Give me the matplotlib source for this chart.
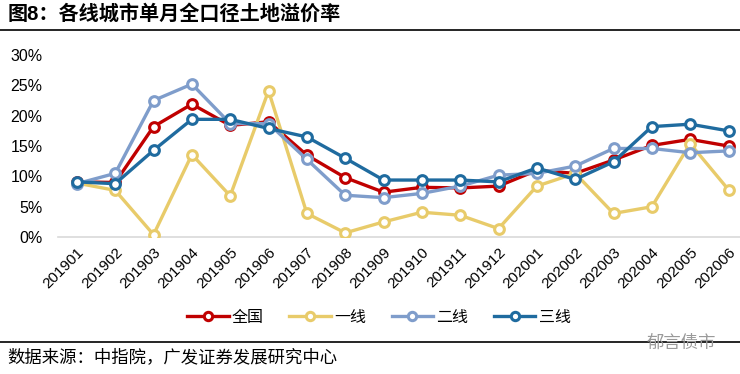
import numpy as np
import matplotlib
matplotlib.use('agg')
import matplotlib.pyplot as plt
from matplotlib.ticker import PercentFormatter
from matplotlib.lines import Line2D

plt.rcParams['font.family'] = ['Liberation Sans', 'Noto Sans CJK SC']

months = ['201901', '201902', '201903', '201904', '201905', '201906',
          '201907', '201908', '201909', '201910', '201911', '201912',
          '202001', '202002', '202003', '202004', '202005', '202006']

# 单月全口径土地溢价率 (%)
quanguo = [9.1, 9.0, 18.2, 21.9, 18.4, 19.0, 13.5, 9.8, 7.4, 8.2, 8.1, 8.4,
           11.0, 10.5, 12.7, 15.1, 16.1, 15.0]
yixian = [8.9, 7.7, 0.4, 13.6, 6.8, 24.1, 3.9, 0.7, 2.5, 4.1, 3.6, 1.4,
          8.4, 10.5, 3.9, 5.0, 15.4, 7.8]
erxian = [8.8, 10.5, 22.5, 25.2, 18.7, 18.7, 12.8, 6.9, 6.5, 7.2, 8.4, 10.2,
          10.5, 11.7, 14.6, 14.6, 13.9, 14.2]
sanxian = [9.1, 8.8, 14.3, 19.4, 19.4, 17.9, 16.5, 13.0, 9.4, 9.4, 9.4, 9.1,
           11.4, 9.5, 12.4, 18.2, 18.6, 17.5]

series = [('全国', quanguo, '#C00000'),
          ('一线', yixian, '#E8CB6A'),
          ('二线', erxian, '#7F9DCB'),
          ('三线', sanxian, '#1F6B9F')]

fig = plt.figure(figsize=(7.4, 3.74), dpi=100)
ax = fig.add_axes([0.078, 0.366, 0.922, 0.487])

x = np.arange(len(months))
handles = []
for i, (name, vals, col) in enumerate(series):
    ax.plot(x, vals, color=col, lw=2.4, marker='o', ms=7, mfc='white',
            mec=col, mew=2.2, zorder=3 + i)
    handles.append(Line2D([0], [0], color=col, lw=2.4, marker='o', ms=6,
                          mfc='white', mec=col, mew=2.2, label=name))

ax.set_xlim(-0.5, 17.3)
ax.set_ylim(0, 30)
ax.set_yticks(np.arange(0, 31, 5))
ax.yaxis.set_major_formatter(PercentFormatter(decimals=0))
ax.set_xticks(x)
ax.set_xticklabels(months, rotation=45, ha='right', rotation_mode='anchor')
ax.tick_params(axis='both', length=0, labelsize=11.5, colors='black')
ax.tick_params(axis='x', pad=6, labelsize=11)
ax.tick_params(axis='y', pad=11)

for s in ['top', 'right', 'left']:
    ax.spines[s].set_visible(False)
ax.spines['bottom'].set_color('#D9D9D9')
ax.spines['bottom'].set_linewidth(1.2)

fig.legend(handles=handles, loc='center', bbox_to_anchor=(0.512, 0.152),
           ncol=4, frameon=False, fontsize=11.5, handlelength=2.6,
           columnspacing=1.6, handletextpad=0.2)

fig.text(0.01, 0.962, '图8：各线城市单月全口径土地溢价率', fontsize=14.5,
         fontweight='bold', va='center', ha='left')
fig.add_artist(Line2D([0, 1], [0.92, 0.92], color='black', lw=1.2))
fig.add_artist(Line2D([0, 1], [0.0856, 0.0856], color='black', lw=1.2))
fig.text(0.01, 0.045, '数据来源：中指院，广发证券发展研究中心', fontsize=12.5,
         va='center', ha='left')
fig.text(0.968, 0.085, '郁言债市', fontsize=12.5, color='#9A9A9A',
         va='center', ha='right')

plt.savefig('out.png', dpi=100)
